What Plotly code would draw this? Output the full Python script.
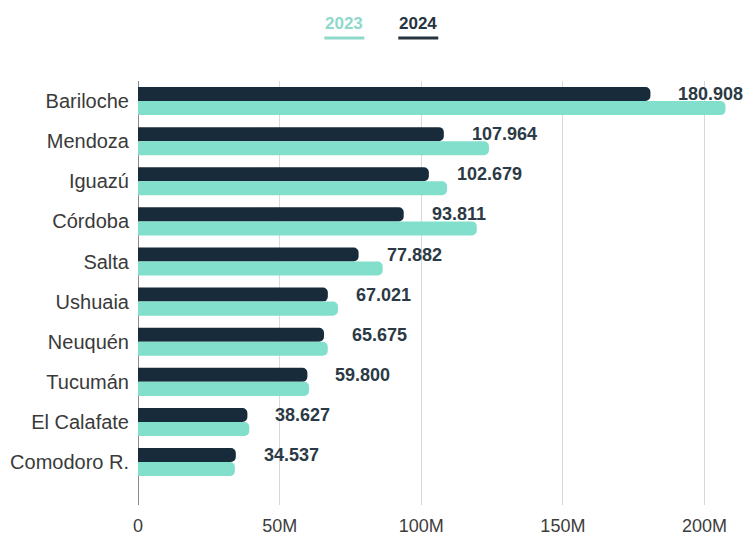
import plotly.graph_objects as go

cities = ["Bariloche", "Mendoza", "Iguazú", "Córdoba", "Salta", "Ushuaia",
          "Neuquén", "Tucumán", "El Calafate", "Comodoro R."]
values_2024 = [180.908, 107.964, 102.679, 93.811, 77.882, 67.021, 65.675, 59.800, 38.627, 34.537]
values_2023 = [207.4, 123.9, 109.1, 119.6, 86.4, 70.6, 67.0, 60.4, 39.3, 34.2]
labels_2024 = ["180.908", "107.964", "102.679", "93.811", "77.882", "67.021",
               "65.675", "59.800", "38.627", "34.537"]
tick_vals = [0, 50, 100, 150, 200]
tick_text = ["0", "50M", "100M", "150M", "200M"]

DARK = "#172b3a"
TEAL = "#82dfcc"
FONT = "Liberation Sans, Arial, sans-serif"

# page has an 8px body margin: figure is drawn from (8, 8)
OFF = 8
W, H = 752 - OFF, 537 - OFF
L, R, T, B = 137.5 - OFF, 5, 81 - OFF, 32
pw = W - L - R
ph = H - T - B


def px(x):
    return (x - OFF - L) / pw


def py(y):
    return (H - B - (y - OFF)) / ph


fig = go.Figure()
fig.add_trace(go.Bar(y=cities, x=values_2024, orientation="h", name="2024",
                     marker=dict(color=DARK, line=dict(width=0)), hoverinfo="x+y"))
fig.add_trace(go.Bar(y=cities, x=values_2023, orientation="h", name="2023",
                     marker=dict(color=TEAL, line=dict(width=0)), hoverinfo="x+y"))

annotations = []
for c, v, t in zip(cities, values_2024, labels_2024):
    annotations.append(dict(x=v, y=c, xref="x", yref="y", text=t, showarrow=False,
                            xanchor="left", yanchor="middle", xshift=26, yshift=7,
                            font=dict(family=FONT, size=18, color="#2b3a45", weight="bold")))

annotations.append(dict(x=px(344), y=py(24), xref="paper", yref="paper", text="2023",
                        showarrow=False, xanchor="center", yanchor="middle",
                        font=dict(family=FONT, size=17, color="#8fd9cb", weight="bold")))
annotations.append(dict(x=px(418), y=py(24), xref="paper", yref="paper", text="2024",
                        showarrow=False, xanchor="center", yanchor="middle",
                        font=dict(family=FONT, size=17, color="#26343f", weight="bold")))
shapes = [
    dict(type="line", xref="paper", yref="paper", x0=px(324), x1=px(364), y0=py(38), y1=py(38),
         line=dict(color="#8fd9cb", width=3)),
    dict(type="line", xref="paper", yref="paper", x0=px(398), x1=px(438), y0=py(38), y1=py(38),
         line=dict(color="#26343f", width=3)),
]

fig.update_layout(
    width=W, height=H,
    margin=dict(l=L, r=R, t=T, b=B, autoexpand=False),
    paper_bgcolor="white", plot_bgcolor="white",
    barmode="group", bargap=0.3, bargroupgap=0, barcornerradius=5,
    showlegend=False,
    font=dict(family=FONT, color="#3d3d3d"),
    annotations=annotations, shapes=shapes,
)

fig.update_xaxes(range=[0, 215], tickvals=tick_vals, ticktext=tick_text,
                 showgrid=True, gridcolor="#d9d9d9", gridwidth=1,
                 zeroline=True, zerolinecolor="#8a8a8a", zerolinewidth=1,
                 showline=False, ticks="", ticklabelstandoff=8, automargin=False,
                 tickfont=dict(family=FONT, size=18, color="#3d3d3d"))
fig.update_yaxes(type="category", categoryorder="array", categoryarray=cities,
                 range=[10.07, -0.5], showgrid=False, zeroline=False, showline=False,
                 ticks="", ticklabelstandoff=8, automargin=False,
                 tickfont=dict(family=FONT, size=20, color="#3a3a3a"))

fig.write_html("out.html")
